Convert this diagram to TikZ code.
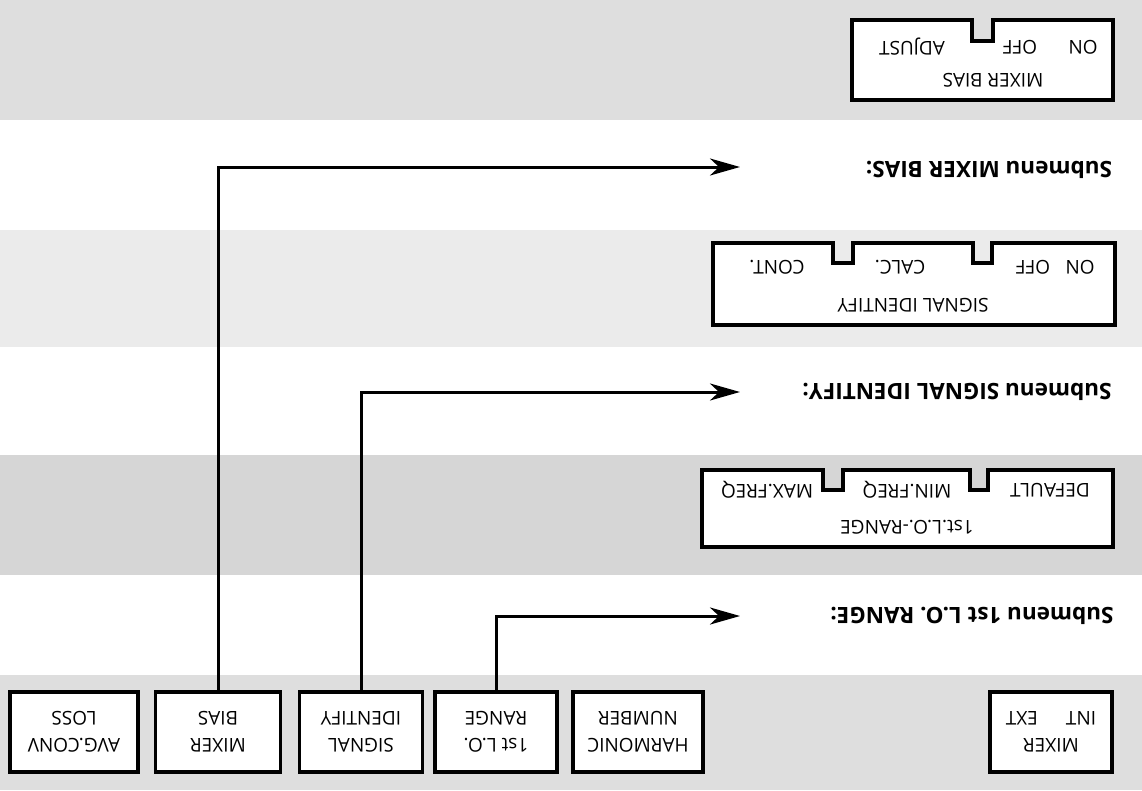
\documentclass[tikz,border=0pt]{standalone}
\usepackage{fontspec}
\setmainfont{Open Sans}
\usetikzlibrary{arrows.meta}
\begin{document}
\begin{tikzpicture}[x=1pt,y=-1pt,
  band/.style={fill=black!13},
  menubox/.style={draw,fill=white,line width=3.5pt,rotate=180,minimum width=#1,
    minimum height=80pt,align=center,inner sep=0pt,
    font=\fontsize{19}{27}\selectfont},
  subbox/.style={draw,fill=white,line width=3.5pt},
  boxtext/.style={rotate=180,inner sep=0pt,font=\fontsize{19}{22}\selectfont},
  heading/.style={rotate=180,inner sep=0pt,font=\fontsize{22.5}{26}\selectfont\bfseries},
  conn/.style={line width=3pt,-{Stealth[length=30pt,width=17pt,inset=9pt]}}]
\useasboundingbox (0,0) rectangle (1142,790);
% halftone bands
\fill[band] (0,0) rectangle (1142,120);
\fill[black!8] (0,230) rectangle (1142,347);
\fill[black!16] (0,455) rectangle (1142,575);
\fill[band] (0,675) rectangle (1142,790);
% main menu boxes
\node[menubox=128pt] (avg) at (74,732) {AVG.CONV\\LOSS};
\node[menubox=125pt] (mixb) at (218,732) {MIXER\\BIAS};
\node[menubox=123pt] (sigi) at (361,732) {SIGNAL\\IDENTIFY};
\node[menubox=122pt] (lo) at (496,732) {1st L.O.\\RANGE};
\node[menubox=130pt] (harm) at (638,732) {HARMONIC\\NUMBER};
\node[menubox=122pt] (mix) at (1051,732) {MIXER\\INT\hspace{28pt}EXT};
% arrow ends
\coordinate (e1) at (740,616);
\coordinate (e2) at (740,392);
\coordinate (e3) at (740,167);
\draw[conn] (lo.south) |- (e1);
\draw[conn] (sigi.south) |- (e2);
\draw[conn] (mixb.south) |- (e3);
% headings
\node[heading] (h1) at (972,616) {Submenu 1st L.O. RANGE:};
\node[heading] (h2) at (957,392) {Submenu SIGNAL IDENTIFY:};
\node[heading] (h3) at (989,170) {Submenu MIXER BIAS:};
% submenu 1st L.O.-RANGE
\draw[subbox] (702,470) -- (823,470) -- (823,490) -- (843,490) -- (843,470)
  -- (970,470) -- (970,490) -- (988,490) -- (988,470) -- (1113,470)
  -- (1113,547) -- (702,547) -- cycle;
\node[boxtext] (t11) at (1050,490) {DEFAULT};
\node[boxtext] (t12) at (907,490) {MIN.FREQ};
\node[boxtext] (t13) at (767,490) {MAX.FREQ};
\node[boxtext] (t14) at (907,527) {1st.L.O.-RANGE};
% submenu SIGNAL IDENTIFY
\draw[subbox] (713,243) -- (833,243) -- (833,263) -- (853,263) -- (853,243)
  -- (973,243) -- (973,263) -- (992,263) -- (992,243) -- (1115,243)
  -- (1115,325) -- (713,325) -- cycle;
\node[boxtext] (t21) at (1080,267) {ON};
\node[boxtext] (t22) at (1033,267) {OFF};
\node[boxtext] (t23) at (900,267) {CALC.};
\node[boxtext] (t24) at (777,267) {CONT.};
\node[boxtext] (t25) at (913,305) {SIGNAL IDENTIFY};
% submenu MIXER BIAS
\draw[subbox] (852,20) -- (972,20) -- (972,41) -- (993,41) -- (993,20)
  -- (1113,20) -- (1113,100) -- (852,100) -- cycle;
\node[boxtext] (t31) at (1083,47) {ON};
\node[boxtext] (t32) at (1020,47) {OFF};
\node[boxtext] (t33) at (912,47) {ADJUST};
\node[boxtext] (t34) at (993,80) {MIXER BIAS};
\end{tikzpicture}
\end{document}
